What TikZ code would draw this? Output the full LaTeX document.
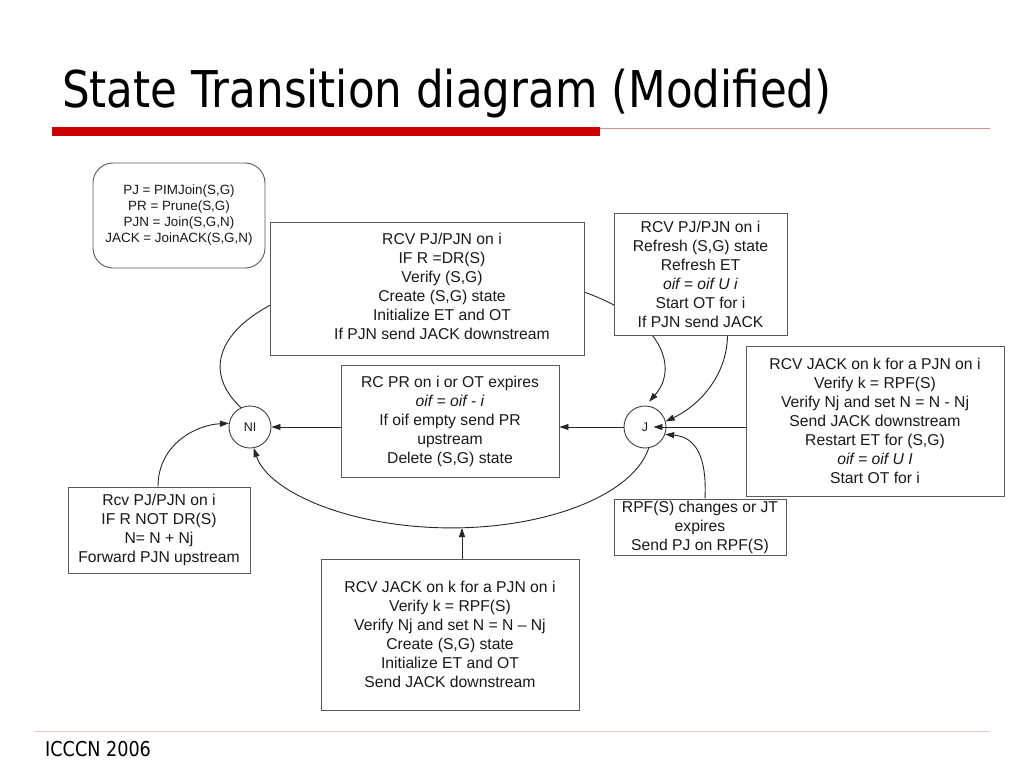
\documentclass[tikz,border=0pt]{standalone}
\usepackage{fontspec}
\setmainfont{Liberation Sans}
\newfontfamily\titlefont{DejaVu Sans}[FakeStretch=0.86]
\usepackage{tikz}
\usetikzlibrary{arrows.meta,positioning,backgrounds}

\definecolor{slidered}{HTML}{CC0000}
\definecolor{slidepink}{HTML}{D98C8C}
\definecolor{footpink}{HTML}{F2C4C4}

\def\light{0.9pt}

\begin{document}
\begin{tikzpicture}[x=1pt,y=-1pt,
  >={Triangle[length=9pt,width=6pt]},
  box/.style={draw=black!65,line width=\light,fill=white,align=center,inner sep=0pt,
    text=black!90,font=\fontsize{15.7}{19}\selectfont},
  state/.style={draw=black!75,line width=\light,circle,minimum size=42pt,inner sep=0pt,
    text=black!90,font=\fontsize{12.5}{14}\selectfont},
  trans/.style={->,draw=black!85,line width=\light}]

\useasboundingbox (0,0) rectangle (1024,768);

% slide frame
\node[anchor=base west,inner sep=0pt,font=\titlefont\fontsize{50.7}{60}\selectfont] (title) at (62,107) {State Transition diagram (Modified)};
\fill[slidered] (52,127) rectangle (600,136);
\draw[slidepink,line width=1pt] (600,128) -- (990,128);
\draw[footpink,line width=1pt] (35,731) -- (990,731);
\node[anchor=base west,inner sep=0pt,font=\titlefont\fontsize{20.5}{24}\selectfont] (footer) at (45,756) {ICCCN 2006};

% states
\node[state] (NI) at (250,427) {NI};
\node[state] (J) at (645,427) {J};

% transition boxes
\node[box,rounded corners=20pt,minimum width=172pt,minimum height=105pt,
  font=\fontsize{13.4}{16}\selectfont] (legend) at (179,215.5)
  {PJ = PIMJoin(S,G)\\PR = Prune(S,G)\\PJN = Join(S,G,N)\\JACK = JoinACK(S,G,N)};

\node[box,minimum width=314pt,minimum height=133pt] (create) at (427,288.5)
  {\hspace*{30pt}\begin{tabular}{@{}c@{}}RCV PJ/PJN on i\\IF R =DR(S)\\Verify (S,G)\\Create (S,G) state\\Initialize ET and OT\\If PJN send JACK downstream\end{tabular}};

\node[box,minimum width=173pt,minimum height=122pt] (refresh) at (700.5,274)
  {RCV PJ/PJN on i\\Refresh (S,G) state\\Refresh ET\\\textit{oif = oif U i}\\Start OT for i\\If PJN send JACK};

\node[box,minimum width=218pt,minimum height=112pt] (prune) at (450,421)
  {RC PR on i or OT expires\\\textit{oif = oif - i}\\If oif empty send PR\\upstream\\Delete (S,G) state};

\node[box,minimum width=258pt,minimum height=150pt] (jack) at (875,421)
  {RCV JACK on k for a PJN on i\\Verify k = RPF(S)\\Verify Nj and set N = N - Nj\\Send JACK downstream\\Restart ET for (S,G)\\\textit{oif = oif U I}\\Start OT for i};

\node[box,minimum width=172pt,minimum height=56pt] (rpf) at (700,527)
  {RPF(S) changes or JT\\expires\\Send PJ on RPF(S)};

\node[box,minimum width=182pt,minimum height=86pt] (rcv) at (159,530)
  {Rcv PJ/PJN on i\\IF R NOT DR(S)\\N= N + Nj\\Forward PJN upstream};

\node[box,minimum width=258pt,minimum height=151pt] (bjack) at (450,634.5)
  {RCV JACK on k for a PJN on i\\Verify k = RPF(S)\\Verify Nj and set N = N \textendash{} Nj\\Create (S,G) state\\Initialize ET and OT\\Send JACK downstream};

\coordinate (lowmid) at (462,528);

% transitions
\begin{scope}[on background layer]
\fill[white] (0,0) rectangle (1024,768);
\draw[trans] (NI.115) arc[start angle=155,end angle=381.2,x radius=222,y radius=97];
\draw[trans] (J.-80) arc[start angle=9.07,end angle=170.93,x radius=200,y radius=94.7];
\draw[trans] ([xshift=12pt]bjack.north) -- (lowmid);
\draw[trans] ([xshift=27pt]refresh.south) .. controls (727,375) and (700,405) .. (J.15);
\draw[trans] ([xshift=5pt]rpf.north) .. controls (707,455) and (695,437) .. (J.-20);
\draw[trans] ([xshift=-1pt]rcv.north) .. controls (158,445) and (195,425) .. (NI.170);
\draw[trans] (prune.west |- NI) -- (NI);
\draw[trans] (J) -- (prune.east |- J);
\draw[trans,shorten >=-13pt] (jack.west |- J) -- (J);
\end{scope}

\end{tikzpicture}
\end{document}
